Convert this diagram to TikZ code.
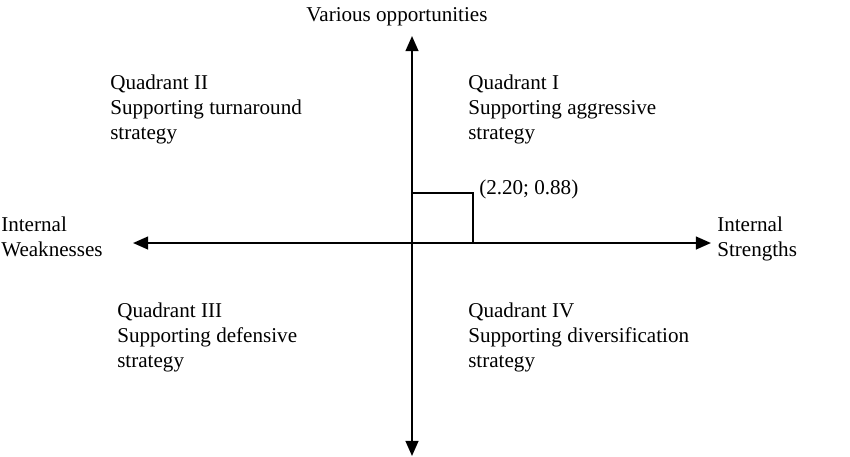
\documentclass[tikz,border=0pt]{standalone}
\usepackage{fontspec}
\setmainfont{Liberation Serif}
\usetikzlibrary{arrows.meta}
\tikzset{ax/.append style={line width=1.5pt,-{Triangle[length=0.38cm,width=0.32cm]}}}
\tikzset{tx/.append style={anchor=north west,inner sep=0pt,align=left,font=\fontsize{15}{17.8}\selectfont}}

\begin{document}
\begin{tikzpicture}[x=0.025cm,y=-0.025cm]
                \useasboundingbox (0,0) rectangle (850,456);
                % axes
                \coordinate (o) at (412,243);
                \coordinate (n) at (412,36);
                \coordinate (s) at (412,456);
                \coordinate (w) at (133,243);
                \coordinate (e) at (711,243);
                \draw[ax] (o) -- (n);
                \draw[ax] (o) -- (s);
                \draw[ax] (o) -- (w);
                \draw[ax] (o) -- (e);
                % point
                \coordinate (p) at (473,193);
                \draw[line width=1pt] (o |- p) -- (p) -- (p |- o);
                \node[tx,anchor=south west] (pt) at (479,199) {(2.20; 0.88)};
                % labels
                \node[tx,anchor=north] (vo) at (397,7) {Various opportunities};
                \node[tx] (iw) at (1,217) {Internal\\Weaknesses};
                \node[tx] (is) at (717,217) {Internal\\Strengths};
                \node[tx] (q2) at (110,75) {Quadrant II\\Supporting turnaround\\strategy};
                \node[tx] (q1) at (468,75) {Quadrant I\\Supporting aggressive\\strategy};
                \node[tx] (q3) at (117,303) {Quadrant III\\Supporting defensive\\strategy};
                \node[tx] (q4) at (468,303) {Quadrant IV\\Supporting diversification\\strategy};
            \end{tikzpicture}
\end{document}
